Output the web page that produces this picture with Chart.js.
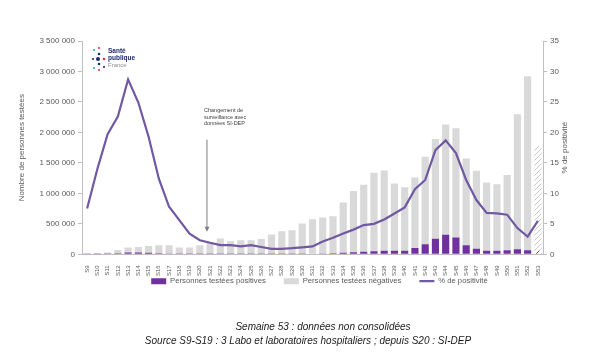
<!DOCTYPE html>
<html>
<head>
<meta charset="utf-8">
<script src="https://cdn.jsdelivr.net/npm/chart.js@4/dist/chart.umd.min.js"></script>
<style>
  body { margin: 0; background: #fff; }
  #wrap { width: 600px; height: 361px; }
</style>
</head>
<body>
<div id="wrap"><canvas id="myChart" width="600" height="361"></canvas></div>
<script>
const weeks = ['S9','S10','S11','S12','S13','S14','S15','S16','S17','S18','S19','S20','S21','S22','S23',
  'S24','S25','S26','S27','S28','S29','S30','S31','S32','S33','S34','S35','S36','S37','S38','S39',
  'S40','S41','S42','S43','S44','S45','S46','S47','S48','S49','S50','S51','S52','S53'];

const positives = [400, 1500, 6000, 16000, 30000, 30000, 26000, 19000, 12000, 6000, 4000, 3500, 3500, 4000, 3000,
  3000, 3500, 3000, 3000, 3500, 4000, 6000, 8000, 12000, 17000, 25000, 33000, 42000, 50000, 58000, 57000,
  57000, 104000, 165000, 255000, 320000, 274000, 148000, 93000, 57000, 57000, 66000, 82000, 66000, 60000];

const negatives = [4600, 10500, 24000, 54000, 80000, 90000, 109000, 131000, 138000, 104000, 106000, 146500, 186500, 254000, 210000,
  227000, 226500, 249000, 320000, 374500, 391000, 498000, 567000, 591000, 608000, 825000, 1007000, 1098000, 1290000, 1317000, 1103000,
  1043000, 1156000, 1435000, 1635000, 1810000, 1796000, 1422000, 1277000, 1123000, 1093000, 1234000, 2218000, 2854000, 1720000];

const positivity = [7.5, 14.0, 19.7, 22.6, 28.7, 24.9, 19.3, 12.4, 7.8, 5.6, 3.4, 2.3, 1.9, 1.5, 1.5,
  1.3, 1.5, 1.2, 0.9, 0.9, 1.0, 1.15, 1.3, 2.1, 2.7, 3.4, 4.05, 4.8, 5.0, 5.7, 6.7,
  7.7, 10.7, 12.2, 17.1, 18.7, 16.6, 12.2, 8.9, 6.8, 6.7, 6.5, 4.3, 2.9, 5.5];

const FONT = "'Liberation Sans', Arial, sans-serif";
const GREY_TXT = '#595959';
const AXIS = '#bfbfbf';

// hatch for the last (non consolidated) week
function hatch(color, bg) {
  const c = document.createElement('canvas');
  c.width = 5; c.height = 5;
  const g = c.getContext('2d');
  g.fillStyle = bg;
  g.fillRect(0, 0, 5, 5);
  g.strokeStyle = color;
  g.lineWidth = 1;
  g.beginPath();
  g.moveTo(-1, 6); g.lineTo(6, -1);
  g.moveTo(-1, 1); g.lineTo(1, -1);
  g.moveTo(4, 6); g.lineTo(6, 4);
  g.stroke();
  return g.createPattern(c, 'repeat');
}
const lastIdx = weeks.length - 1;
const posColors = weeks.map((w, i) => i === lastIdx ? hatch('#7030a0', '#ffffff') : '#7030a0');
const negColors = weeks.map((w, i) => i === lastIdx ? hatch('#c8c8c8', '#ffffff') : '#d9d9d9');

function spaced(v) {
  return v.toString().replace(/\B(?=(\d{3})+(?!\d))/g, ' ');
}

// legend sits tighter under the week labels than chart.js puts it
const legendShift = {
  id: 'legendShift',
  afterLayout: (chart) => {
    const l = chart.legend;
    l.top -= 17; l.bottom -= 17;
    l.left += 7; l.right += 7;
  }
};

const extras = {
  id: 'extras',
  afterDraw: (chart) => {
    const ctx = chart.ctx;
    const xs = chart.scales.x, ys = chart.scales.y;
    const area = chart.chartArea;
    ctx.save();

    // surveillance change annotation (between S20 and S21)
    const xa = xs.getPixelForValue(11) + 0.7 * (xs.getPixelForValue(12) - xs.getPixelForValue(11));
    const yTop = ys.getPixelForValue(1880000);
    const yBot = ys.getPixelForValue(370000);
    ctx.strokeStyle = '#7f7f7f';
    ctx.fillStyle = '#7f7f7f';
    ctx.lineWidth = 1;
    ctx.beginPath();
    ctx.moveTo(xa, yTop);
    ctx.lineTo(xa, yBot - 4);
    ctx.stroke();
    ctx.beginPath();
    ctx.moveTo(xa - 2.5, yBot - 5);
    ctx.lineTo(xa + 2.5, yBot - 5);
    ctx.lineTo(xa, yBot);
    ctx.closePath();
    ctx.fill();
    ctx.fillStyle = '#404040';
    ctx.font = '5.5px ' + FONT;
    ctx.textAlign = 'left';
    ctx.textBaseline = 'middle';
    ['Changement de', 'surveillance avec', 'données SI-DEP'].forEach((t, i) => {
      ctx.fillText(t, xa - 3, yTop - 29 + i * 6.5);
    });

    // Santé publique France logo
    const lx = area.left + 11, ly = area.top + 6;
    const dots = [
      [1, 3, 1.1, '#29b6d8'], [6, 1, 1.1, '#e4344b'], [6, 7, 1.3, '#1d2b6b'],
      [0, 12, 1.1, '#1d2b6b'], [5, 12, 2.0, '#1d2b6b'], [11, 12, 1.3, '#e4344b'],
      [1, 21, 1.1, '#29b6d8'], [6, 17, 1.3, '#1d2b6b'], [6, 23, 1.1, '#e4344b'], [11, 20, 1.1, '#1d2b6b']
    ];
    dots.forEach(d => {
      ctx.fillStyle = d[3];
      ctx.beginPath();
      ctx.arc(lx + d[0], ly + d[1], d[2], 0, Math.PI * 2);
      ctx.fill();
    });
    ctx.fillStyle = '#1d2b6b';
    ctx.font = 'bold 6.5px ' + FONT;
    ctx.fillText('Santé', lx + 15, ly + 4);
    ctx.fillText('publique', lx + 15, ly + 11);
    ctx.fillStyle = '#8c8c8c';
    ctx.font = '6px ' + FONT;
    ctx.fillText('France', lx + 15, ly + 18);

    // secondary axis title
    ctx.save();
    ctx.translate(565, (area.top + area.bottom) / 2);
    ctx.rotate(-Math.PI / 2);
    ctx.textAlign = 'center';
    ctx.fillStyle = GREY_TXT;
    ctx.font = '8px ' + FONT;
    ctx.fillText('% de positivité', 0, 0);
    ctx.restore();

    // footnotes
    ctx.fillStyle = '#1a1a1a';
    ctx.font = 'italic 10px ' + FONT;
    ctx.textAlign = 'center';
    ctx.fillText('Semaine 53 : données non consolidées', 323, 327);
    ctx.fillText('Source S9-S19 : 3 Labo et laboratoires hospitaliers ; depuis S20 : SI-DEP', 308, 341);
    ctx.restore();
  }
};

const data = {
  labels: weeks,
  datasets: [{
    type: 'line',
    label: '% de positivité',
    data: positivity,
    yAxisID: 'y1',
    borderColor: '#7058a3',
    backgroundColor: '#7058a3',
    borderWidth: 2.2,
    pointRadius: 0,
    pointStyle: 'line',
    tension: 0,
    order: 0
  }, {
    label: 'Personnes testées positives',
    data: positives,
    backgroundColor: posColors,
    pointStyle: 'rect',
    stack: 's',
    order: 1
  }, {
    label: 'Personnes testées négatives',
    data: negatives,
    backgroundColor: negColors,
    pointStyle: 'rect',
    stack: 's',
    order: 1
  }]
};

const config = {
  type: 'bar',
  data: data,
  options: {
    responsive: false,
    animation: false,
    layout: { padding: { left: 13, right: 26, top: 41, bottom: 49 } },
    datasets: { bar: { barPercentage: 0.7, categoryPercentage: 1 } },
    scales: {
      x: {
        stacked: true,
        grid: { display: false },
        border: { display: true, color: AXIS },
        ticks: {
          autoSkip: false, minRotation: 90, maxRotation: 90, padding: 3,
          color: GREY_TXT, font: { family: FONT, size: 6 }
        },
        afterFit: (s) => { s.height = 22; }
      },
      y: {
        stacked: true,
        min: 0, max: 3500000,
        grid: { drawOnChartArea: false, tickLength: 4, color: AXIS },
        border: { color: AXIS },
        ticks: {
          stepSize: 500000, padding: 3, color: GREY_TXT,
          font: { family: FONT, size: 8 },
          callback: (v) => spaced(v)
        },
        title: { display: true, text: 'Nombre de personnes testées', color: GREY_TXT, font: { family: FONT, size: 8 } },
        afterFit: (s) => { s.width = 69; }
      },
      y1: {
        position: 'right',
        min: 0, max: 35,
        grid: { drawOnChartArea: false, tickLength: 4, color: AXIS },
        border: { color: AXIS },
        ticks: { stepSize: 5, padding: 3, color: GREY_TXT, font: { family: FONT, size: 8 } },
        afterFit: (s) => { s.width = 31; }
      }
    },
    plugins: {
      tooltip: { enabled: false },
      legend: {
        position: 'bottom',
        fullSize: false,
        labels: {
          usePointStyle: true,
          pointStyleWidth: 15,
          boxHeight: 6,
          padding: 18,
          color: GREY_TXT,
          font: { family: FONT, size: 7.7 },
          sort: (a, b) => {
            const rank = [2, 0, 1];
            return rank[a.datasetIndex] - rank[b.datasetIndex];
          }
        }
      }
    }
  },
  plugins: [legendShift, extras]
};

const myChart = new Chart(document.getElementById('myChart'), config);
</script>
</body>
</html>
